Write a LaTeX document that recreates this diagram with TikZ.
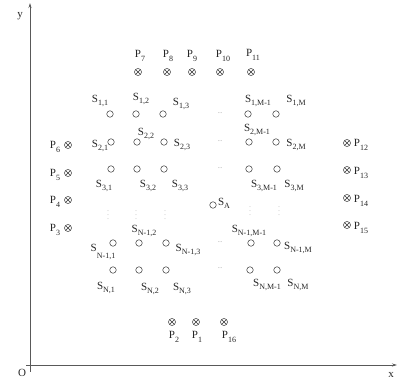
\documentclass[tikz,border=0pt]{standalone}
\usepackage{fontspec}
\setmainfont{Liberation Serif}
\usetikzlibrary{arrows.meta}
\newcommand{\sub}[2]{#1\raisebox{-0.65ex}{\fontsize{8}{9}\selectfont #2}}
\begin{document}
\begin{tikzpicture}[x=1pt,y=-1pt,
  sens/.style={circle,draw=black!80,line width=0.5pt,minimum size=6.5pt,inner sep=0pt},
  pnt/.style={circle,draw=black!80,line width=0.5pt,minimum size=7pt,inner sep=0pt,
    path picture={\draw[line width=0.45pt,black!80] (path picture bounding box.north west)--(path picture bounding box.south east)
      (path picture bounding box.north east)--(path picture bounding box.south west);}},
  lab/.style={inner sep=0pt,font=\fontsize{11}{13}\selectfont,text=black!85},
  hd/.style={inner sep=0pt,font=\fontsize{6}{6}\selectfont,text=black!45},
  axis/.style={draw=black!65,line width=0.7pt}]
\useasboundingbox (0,0) rectangle (397,385);
% axes
\coordinate (ybot) at (30,372);
\coordinate (ytop) at (30,3);
\coordinate (xl) at (26,365);
\coordinate (xr) at (397,365);
\draw[axis,-{Stealth[length=5pt,width=3pt]}] (ybot) -- (ytop);
\draw[axis,-{Stealth[length=5pt,width=3pt]}] (xl) -- (xr);
\node[lab] (ylab) at (20,16) {y};
\node[lab] (xlab) at (391,375) {x};
\node[lab] (olab) at (22,373) {O};
% sensors row 1
\node[sens] (s11) at (110,114) {};
\node[sens] (s12) at (136,114) {};
\node[sens] (s13) at (163,114) {};
\node[sens] (s1m1) at (248,114) {};
\node[sens] (s1m) at (276,114) {};
% row 2
\node[sens] (s21) at (111,142) {};
\node[sens] (s22) at (137,142) {};
\node[sens] (s23) at (164,142) {};
\node[sens] (s2m1) at (249,142) {};
\node[sens] (s2m) at (276,142) {};
% row 3
\node[sens] (s31) at (111,169) {};
\node[sens] (s32) at (137,169) {};
\node[sens] (s33) at (164,169) {};
\node[sens] (s3m1) at (249,169) {};
\node[sens] (s3m) at (277,169) {};
% row N-1
\node[sens] (sn11) at (113,243) {};
\node[sens] (sn12) at (139,243) {};
\node[sens] (sn13) at (166,243) {};
\node[sens] (sn1m1) at (251,243) {};
\node[sens] (sn1m) at (277,243) {};
% row N
\node[sens] (sn1) at (113,270) {};
\node[sens] (sn2) at (139,270) {};
\node[sens] (sn3) at (166,270) {};
\node[sens] (snm1) at (250,270) {};
\node[sens] (snm) at (277,270) {};
% S_A
\node[sens] (sa) at (213,205) {};
% sensor labels
\node[lab] (ls11) at (100,101) {\sub{S}{1,1}};
\node[lab] (ls12) at (141,99) {\sub{S}{1,2}};
\node[lab] (ls13) at (181,104) {\sub{S}{1,3}};
\node[lab] (ls1m1) at (258,101) {\sub{S}{1,M-1}};
\node[lab] (ls1m) at (296,101) {\sub{S}{1,M}};
\node[lab] (ls21) at (100,146) {\sub{S}{2,1}};
\node[lab] (ls22) at (146,134) {\sub{S}{2,2}};
\node[lab] (ls23) at (182,145) {\sub{S}{2,3}};
\node[lab] (ls2m1) at (257,130) {\sub{S}{2,M-1}};
\node[lab] (ls2m) at (296,145) {\sub{S}{2,M}};
\node[lab] (ls31) at (104,186) {\sub{S}{3,1}};
\node[lab] (ls32) at (148,186) {\sub{S}{3,2}};
\node[lab] (ls33) at (180,186) {\sub{S}{3,3}};
\node[lab] (ls3m1) at (264,186) {\sub{S}{3,M-1}};
\node[lab] (ls3m) at (294,186) {\sub{S}{3,M}};
\node[lab] (lsa) at (224,203) {\sub{S}{A}};
\node[lab] (lsn11) at (103,252) {S\raisebox{-1.2ex}{\fontsize{8}{9}\selectfont N-1,1}};
\node[lab] (lsn12) at (144,231) {\sub{S}{N-1,2}};
\node[lab] (lsn13) at (188,250) {\sub{S}{N-1,3}};
\node[lab] (lsn1m1) at (249,231) {\sub{S}{N-1,M-1}};
\node[lab] (lsn1m) at (298,248) {\sub{S}{N-1,M}};
\node[lab] (lsn1) at (106,288) {\sub{S}{N,1}};
\node[lab] (lsn2) at (150,289) {\sub{S}{N,2}};
\node[lab] (lsn3) at (182,289) {\sub{S}{N,3}};
\node[lab] (lsnm1) at (267,285) {\sub{S}{N,M-1}};
\node[lab] (lsnm) at (298,285) {\sub{S}{N,M}};
% dots
\node[hd] (h1) at (220,113) {...};
\node[hd] (h2) at (220,141) {...};
\node[hd] (h3) at (220,168) {...};
\node[hd] (h4) at (220,242) {...};
\node[hd] (h5) at (220,268) {...};
\node[hd] (v1) at (108,212) {$\vdots$};
\node[hd] (v2) at (136,212) {$\vdots$};
\node[hd] (v3) at (165,212) {$\vdots$};
\node[hd] (v4) at (250,208) {$\vdots$};
\node[hd] (v5) at (279,208) {$\vdots$};
% P markers
\node[pnt] (p7) at (138,72) {};
\node[pnt] (p8) at (167,72) {};
\node[pnt] (p9) at (192,72) {};
\node[pnt] (p10) at (220,72) {};
\node[pnt] (p11) at (251,72) {};
\node[pnt] (p6) at (68,145) {};
\node[pnt] (p5) at (68,173) {};
\node[pnt] (p4) at (68,200) {};
\node[pnt] (p3) at (68,228) {};
\node[pnt] (p12) at (347,143) {};
\node[pnt] (p13) at (347,170) {};
\node[pnt] (p14) at (347,198) {};
\node[pnt] (p15) at (347,225) {};
\node[pnt] (p2) at (172,322) {};
\node[pnt] (p1) at (196,322) {};
\node[pnt] (p16) at (224,322) {};
% P labels
\node[lab] (lp7) at (140,56) {\sub{P}{7}};
\node[lab] (lp8) at (168,56) {\sub{P}{8}};
\node[lab] (lp9) at (192,56) {\sub{P}{9}};
\node[lab] (lp10) at (223,56) {\sub{P}{10}};
\node[lab] (lp11) at (253,55) {\sub{P}{11}};
\node[lab] (lp6) at (55,147) {\sub{P}{6}};
\node[lab] (lp5) at (55,175) {\sub{P}{5}};
\node[lab] (lp4) at (55,202) {\sub{P}{4}};
\node[lab] (lp3) at (55,230) {\sub{P}{3}};
\node[lab] (lp12) at (361,145) {\sub{P}{12}};
\node[lab] (lp13) at (361,173) {\sub{P}{13}};
\node[lab] (lp14) at (361,201) {\sub{P}{14}};
\node[lab] (lp15) at (361,228) {\sub{P}{15}};
\node[lab] (lp2) at (174,337) {\sub{P}{2}};
\node[lab] (lp1) at (197,337) {\sub{P}{1}};
\node[lab] (lp16) at (229,337) {\sub{P}{16}};
\end{tikzpicture}
\end{document}
